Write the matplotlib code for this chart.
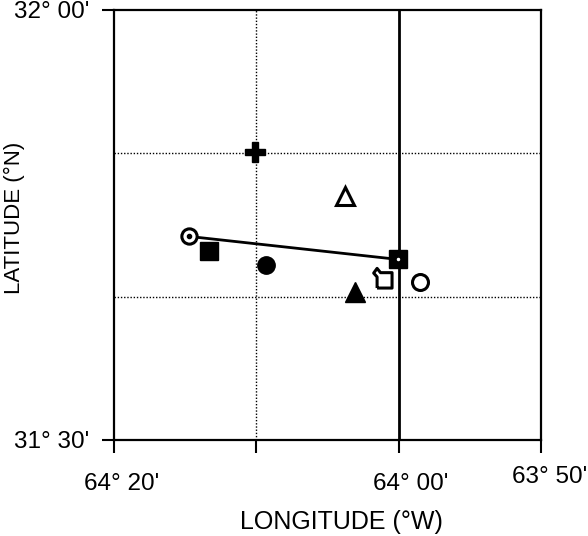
import matplotlib.pyplot as plt
from matplotlib.path import Path
from matplotlib.transforms import ScaledTranslation

plt.rcParams['font.family'] = ['Liberation Sans', 'DejaVu Sans']

# positions in degrees + minutes (longitude W, latitude N)
def dm(d, m):
    return d + m / 60.0

# station track (open circle -> square)
track_lon = [dm(64, 14.7), dm(64, 0.05)]
track_lat = [dm(31, 44.2), dm(31, 42.6)]

# individual sites
open_circle_lon, open_circle_lat = dm(63, 58.5), dm(31, 41.0)
filled_square_lon, filled_square_lat = dm(64, 13.3), dm(31, 43.2)
filled_circle_lon, filled_circle_lat = dm(64, 9.3), dm(31, 42.2)
cross_lon, cross_lat = dm(64, 10.1), dm(31, 50.1)
open_tri_lon, open_tri_lat = dm(64, 3.8), dm(31, 47.0)
filled_tri_lon, filled_tri_lat = dm(64, 3.1), dm(31, 40.3)
house_lon, house_lat = dm(64, 1.1), dm(31, 41.2)

xticks = [dm(64, 20), dm(64, 10), dm(64, 0), dm(63, 50)]
xticklabels = ["64° 20'", "", "64° 00'", "63° 50'"]
yticks = [dm(31, 30), dm(32, 0)]
yticklabels = ["31° 30'", "32° 00'"]

fig = plt.figure(figsize=(5.88, 5.36), dpi=100)
ax = fig.add_axes([114 / 588, 96 / 536, 427 / 588, 430 / 536])

ax.set_xlim(dm(64, 20), dm(63, 50))
ax.set_ylim(dm(31, 30), dm(32, 0))

# grid lines
dots = (0, (1.0, 1.3))
ax.axvline(dm(64, 10), color='black', lw=1.0, ls=dots, zorder=1)
ax.axhline(dm(31, 40), color='black', lw=1.0, ls=dots, zorder=1)
ax.axhline(dm(31, 50), color='black', lw=1.0, ls=dots, zorder=1)
ax.axvline(dm(64, 0), color='black', lw=2.0, zorder=1)

# track line
ax.plot(track_lon, track_lat, color='black', lw=2.0, zorder=2)
ax.plot(track_lon[0], track_lat[0], 'o', ms=11, mfc='white', mec='black', mew=2.2, zorder=3)
ax.plot(track_lon[0], track_lat[0], 'o', ms=3, color='black', zorder=4)
ax.plot(track_lon[1], track_lat[1], 's', ms=12.5, color='black', zorder=3)
ax.plot(track_lon[1], track_lat[1], '.', ms=3, color='white', zorder=4)

ax.plot(open_circle_lon, open_circle_lat, 'o', ms=11.5, mfc='white', mec='black', mew=2.2, zorder=3)
ax.plot(filled_square_lon, filled_square_lat, 's', ms=12.5, color='black', zorder=3)
ax.plot(filled_circle_lon, filled_circle_lat, 'o', ms=12.5, color='black', zorder=3)
ax.plot(cross_lon, cross_lat, 'P', ms=14, color='black', zorder=3)
ax.plot(open_tri_lon, open_tri_lat, '^', ms=12.5, mfc='white', mec='black', mew=2.2, zorder=3)
ax.plot(filled_tri_lon, filled_tri_lat, '^', ms=14, color='black', zorder=3)

house = Path([(-0.75, -1), (1, -1), (1, 0.8), (-0.35, 0.8), (-0.75, 1.3), (-1.15, 0.75), (-0.75, 0.3), (-0.75, -1)])
ax.plot(house_lon, house_lat, marker=house, ms=16, mfc='white', mec='black', mew=2.2, zorder=3)

for s in ax.spines.values():
    s.set_linewidth(1.6)

ax.set_xticks(xticks)
ax.set_xticklabels(xticklabels, fontsize=17.5)
ax.set_yticks(yticks)
ax.set_yticklabels(yticklabels, fontsize=17.5)
ax.tick_params(axis='x', direction='out', length=9.5, width=1.5, pad=14)
ax.tick_params(axis='y', direction='out', length=9, width=1.5, pad=9)

# labels in the original sit a little right of their ticks
shifts = [(8, 0), (0, 0), (12, 0), (9, 7)]
for lab, (dx, dy) in zip(ax.get_xticklabels(), shifts):
    lab.set_transform(lab.get_transform() + ScaledTranslation(dx / 100, dy / 100, fig.dpi_scale_trans))

ax.set_xlabel('LONGITUDE (°W)', fontsize=18)
ax.xaxis.set_label_coords(0.532, -0.163)
ax.set_ylabel('LATITUDE (°N)', fontsize=16)
ax.yaxis.set_label_coords(-0.208, 0.516)

fig.savefig('out.png', dpi=100)
